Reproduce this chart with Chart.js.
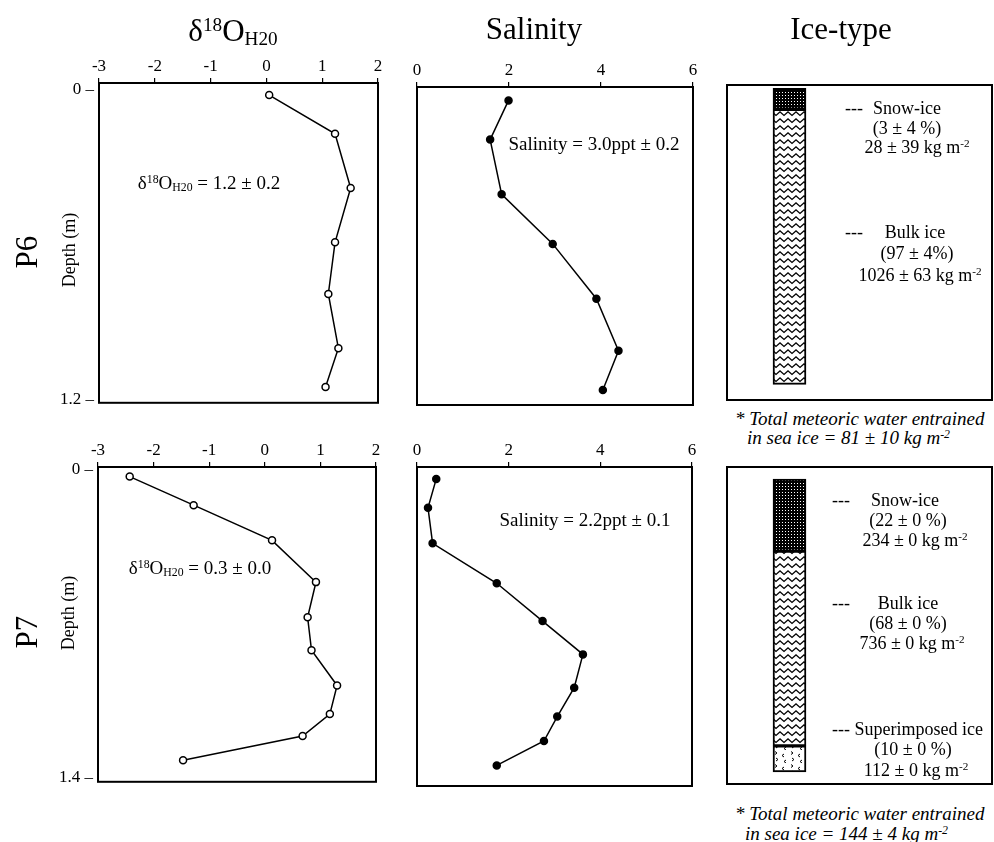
<!DOCTYPE html>
<html>
<head>
<meta charset="utf-8">
<script src="https://cdn.jsdelivr.net/npm/chart.js@4.4.1/dist/chart.umd.min.js"></script>
<style>
  html, body { margin:0; padding:0; background:#fff; overflow:hidden; }
  body { width:994px; height:842px; position:relative; font-family:"Liberation Serif", serif; color:#000; }
  canvas { position:absolute; }
  .t { position:absolute; white-space:nowrap; line-height:1; transform:translate(-50%,-50%); }
  .l { position:absolute; white-space:nowrap; line-height:1; transform:translate(0,-50%); }
  .r { position:absolute; white-space:nowrap; line-height:1; transform:translate(-50%,-50%) rotate(-90deg); }
  sup, sub { line-height:0; font-size:0.62em; }
  sup { vertical-align:0.5em; }
  sub { vertical-align:-0.25em; }
  .it { font-style:italic; }
</style>
</head>
<body>
<canvas id="isoP6"></canvas>
<canvas id="salP6"></canvas>
<canvas id="iceP6"></canvas>
<canvas id="isoP7"></canvas>
<canvas id="salP7"></canvas>
<canvas id="iceP7"></canvas>
<div id="labels"></div>
<script>
// ---------------- DATA ----------------
const isoTicks = [-3, -2, -1, 0, 1, 2];
const salTicks = [0, 2, 4, 6];
const p6DepthTicks = [0, 1.2];
const p6DepthLabels = ['0 \u2013', '1.2 \u2013'];
const p7DepthTicks = [0, 1.4];
const p7DepthLabels = ['0 \u2013', '1.4 \u2013'];

// P6 profiles (depth in m)
const p6IsoDepth = [0.02, 0.17, 0.38, 0.59, 0.79, 1.00, 1.15];
const p6Iso      = [0.05, 1.23, 1.51, 1.23, 1.11, 1.29, 1.06];
const p6SalDepth = [0.04, 0.19, 0.40, 0.59, 0.80, 1.00, 1.15];
const p6Sal      = [1.99, 1.59, 1.84, 2.95, 3.90, 4.38, 4.04];

// P7 profiles
const p7IsoDepth = [0.03, 0.16, 0.32, 0.51, 0.67, 0.82, 0.98, 1.11, 1.21, 1.32];
const p7Iso      = [-2.43, -1.28, 0.13, 0.92, 0.77, 0.84, 1.30, 1.17, 0.68, -1.47];
const p7SalDepth = [0.04, 0.17, 0.33, 0.51, 0.68, 0.83, 0.98, 1.11, 1.22, 1.33];
const p7Sal      = [0.42, 0.24, 0.34, 1.74, 2.74, 3.62, 3.43, 3.06, 2.77, 1.74];

// Ice-type columns (layer thickness as drawn, % of column)
const p6Layers = ['Snow-ice', 'Bulk ice'];
const p6LayerThickness = [7.1, 92.9];
const p7Layers = ['Snow-ice', 'Bulk ice', 'Superimposed ice'];
const p7LayerThickness = [24.6, 66.5, 8.9];

// ---------------- HELPERS ----------------
const FONT = 'Liberation Serif';

const boxPlugin = {
  id: 'box',
  afterDraw(chart) {
    const { ctx, chartArea: a } = chart;
    ctx.save();
    ctx.strokeStyle = '#000';
    ctx.lineWidth = 2;
    ctx.strokeRect(a.left, a.top, a.right - a.left, a.bottom - a.top);
    ctx.restore();
  }
};

function place(id, g) {
  const c = document.getElementById(id);
  const w = g.w + g.padL + g.padR, h = g.h + g.padT + g.padB;
  c.width = w; c.height = h;
  c.style.left = (g.left - g.padL) + 'px';
  c.style.top = (g.top - g.padT) + 'px';
  c.style.width = w + 'px'; c.style.height = h + 'px';
  return c;
}

function profileChart(id, g, xs, depths, xTicks, xMin, xMax, yTicks, yLabels, yMin, yMax, filled) {
  const c = place(id, g);
  return new Chart(c, {
    type: 'scatter',
    data: {
      datasets: [{
        data: xs.map((x, i) => ({ x: x, y: depths[i] })),
        showLine: true,
        borderColor: '#000',
        borderWidth: 1.5,
        pointRadius: 3.5,
        pointHoverRadius: 3.5,
        pointBorderWidth: 1.5,
        pointBackgroundColor: filled ? '#000' : '#fff',
        pointBorderColor: '#000'
      }]
    },
    options: {
      responsive: false,
      animation: false,
      devicePixelRatio: 1,
      events: [],
      layout: { padding: { left: 0, top: 0, right: g.padR, bottom: g.padB } },
      plugins: { legend: { display: false }, tooltip: { enabled: false } },
      scales: {
        x: {
          type: 'linear', position: 'top', min: xMin, max: xMax,
          afterBuildTicks: a => { a.ticks = xTicks.map(v => ({ value: v })); },
          afterFit: s => { s.height = g.padT; },
          grid: { display: true, drawOnChartArea: false, drawTicks: true, tickLength: 5, color: '#000', lineWidth: 1.2 },
          border: { display: false },
          ticks: { color: '#000', font: { family: FONT, size: 17 }, padding: 1, maxRotation: 0, autoSkip: false }
        },
        y: {
          type: 'linear', reverse: true, min: yMin, max: yMax,
          afterBuildTicks: a => { a.ticks = yTicks.map(v => ({ value: v })); },
          afterFit: s => { s.width = g.padL; },
          grid: { display: false, drawTicks: false, tickLength: 0 },
          border: { display: false },
          ticks: { display: !!yLabels, color: '#000', font: { family: FONT, size: 17 }, padding: 5, autoSkip: false,
                   callback: (v, i) => yLabels ? yLabels[i] : '' }
        }
      }
    },
    plugins: [boxPlugin]
  });
}

function makePattern(w, h, draw) {
  const c = document.createElement('canvas');
  c.width = w; c.height = h;
  const g = c.getContext('2d');
  draw(g);
  return g.createPattern(c, 'repeat');
}
const snowPat = makePattern(3, 3, g => {
  g.fillStyle = '#000'; g.fillRect(0, 0, 3, 3);
  g.fillStyle = '#fff'; g.fillRect(1, 1, 1, 1);
});
const bulkPat = makePattern(8, 7, g => {
  g.fillStyle = '#fff'; g.fillRect(0, 0, 8, 7);
  g.strokeStyle = '#000'; g.lineWidth = 1.3;
  g.beginPath(); g.moveTo(-1, 1); g.lineTo(4, 5.5); g.lineTo(9, 1); g.stroke();
});
const superPat = makePattern(16, 13, g => {
  g.fillStyle = '#fff'; g.fillRect(0, 0, 16, 13);
  g.strokeStyle = '#000'; g.lineWidth = 1;
  g.beginPath();
  g.moveTo(3, 1.5); g.lineTo(5, 3); g.lineTo(3, 4.5);
  g.moveTo(12, 4); g.lineTo(10, 5.5); g.lineTo(12, 7);
  g.moveTo(4, 8); g.lineTo(6, 9.5); g.lineTo(4, 11);
  g.moveTo(14, 10); g.lineTo(12, 11.5); g.lineTo(14, 13);
  g.stroke();
});

function iceChart(id, g, layers, thickness, patterns, yMin, yMax, xMin, xMax) {
  const c = place(id, g);
  return new Chart(c, {
    type: 'bar',
    data: {
      datasets: layers.map((name, i) => ({
        label: name,
        data: [{ x: 0, y: thickness[i] }],
        backgroundColor: patterns[i],
        borderColor: '#000',
        borderWidth: 2,
        borderSkipped: false,
        barThickness: 33
      }))
    },
    options: {
      responsive: false,
      animation: false,
      devicePixelRatio: 1,
      events: [],
      layout: { padding: { left: g.padL, top: g.padT, right: g.padR, bottom: g.padB } },
      plugins: { legend: { display: false }, tooltip: { enabled: false } },
      scales: {
        x: { type: 'linear', display: false, stacked: true, offset: false, min: xMin, max: xMax },
        y: { type: 'linear', display: false, stacked: true, reverse: true, min: yMin, max: yMax }
      }
    },
    plugins: [boxPlugin]
  });
}

// ---------------- CHARTS ----------------
profileChart('isoP6', { left: 99, top: 83, w: 279, h: 323, padL: 60, padT: 45, padR: 12, padB: 12 },
  p6Iso, p6IsoDepth, isoTicks, -3, 2, p6DepthTicks, p6DepthLabels, -0.0268, 1.2115, false);
profileChart('salP6', { left: 417, top: 87, w: 276, h: 318, padL: 10, padT: 45, padR: 12, padB: 12 },
  p6Sal, p6SalDepth, salTicks, 0, 6, p6DepthTicks, null, -0.0115, 1.2077, true);
profileChart('isoP7', { left: 98, top: 467, w: 278, h: 318, padL: 60, padT: 45, padR: 12, padB: 12 },
  p7Iso, p7IsoDepth, isoTicks, -3, 2, p7DepthTicks, p7DepthLabels, -0.0135, 1.418, false);
profileChart('salP7', { left: 417, top: 467, w: 275, h: 319, padL: 10, padT: 45, padR: 12, padB: 12 },
  p7Sal, p7SalDepth, salTicks, 0, 6, p7DepthTicks, null, -0.0135, 1.4225, true);

iceChart('iceP6', { left: 727, top: 85, w: 265, h: 315, padL: 3, padT: 3, padR: 2, padB: 3 },
  p6Layers, p6LayerThickness, [snowPat, bulkPat], -1.1, 105.3, -62.5, 202.5);
iceChart('iceP7', { left: 727, top: 467, w: 265, h: 317, padL: 3, padT: 3, padR: 2, padB: 3 },
  p7Layers, p7LayerThickness, [snowPat, bulkPat, superPat], -4.1, 104.1, -62.5, 202.5);

// ---------------- TEXT ----------------
const texts = [
  // column titles
  ['t', 233, 30, 31, '\u03b4<sup>18</sup>O<sub>H20</sub>'],
  ['t', 534, 28, 31, 'Salinity'],
  ['t', 841, 28, 31, 'Ice-type'],
  // row labels
  ['r', 26, 252, 31, 'P6'],
  ['r', 69, 250, 18, 'Depth (m)'],
  ['r', 26, 632, 31, 'P7'],
  ['r', 68, 613, 18, 'Depth (m)'],
  // annotations
  ['t', 209, 182, 19, '\u03b4<sup>18</sup>O<sub>H20</sub> = 1.2 \u00b1 0.2'],
  ['t', 594, 143, 19, 'Salinity = 3.0ppt \u00b1 0.2'],
  ['t', 200, 567, 19, '\u03b4<sup>18</sup>O<sub>H20</sub> = 0.3 \u00b1 0.0'],
  ['t', 585, 519, 19, 'Salinity = 2.2ppt \u00b1 0.1'],
  // P6 ice text
  ['l', 845, 108, 18, '---'],
  ['t', 907, 108, 18, 'Snow-ice'],
  ['t', 907, 128, 18, '(3 \u00b1 4 %)'],
  ['t', 917, 147, 18, '28 \u00b1 39 kg m<sup>-2</sup>'],
  ['l', 845, 232, 18, '---'],
  ['t', 915, 232, 18, 'Bulk ice'],
  ['t', 917, 253, 18, '(97 \u00b1 4%)'],
  ['t', 920, 275, 18, '1026 \u00b1 63 kg m<sup>-2</sup>'],
  ['l', 735, 418, 19, '<span class="it">* Total meteoric water entrained</span>'],
  ['l', 747, 437, 19, '<span class="it">in sea ice = 81 \u00b1 10 kg m<sup>-2</sup></span>'],
  // P7 ice text
  ['l', 832, 500, 18, '---'],
  ['t', 905, 500, 18, 'Snow-ice'],
  ['t', 908, 520, 18, '(22 \u00b1 0 %)'],
  ['t', 915, 540, 18, '234 \u00b1 0 kg m<sup>-2</sup>'],
  ['l', 832, 603, 18, '---'],
  ['t', 908, 603, 18, 'Bulk ice'],
  ['t', 908, 623, 18, '(68 \u00b1 0 %)'],
  ['t', 912, 643, 18, '736 \u00b1 0 kg m<sup>-2</sup>'],
  ['l', 832, 729, 18, '--- Superimposed ice'],
  ['t', 913, 749, 18, '(10 \u00b1 0 %)'],
  ['t', 916, 770, 18, '112 \u00b1 0 kg m<sup>-2</sup>'],
  ['l', 735, 813, 19, '<span class="it">* Total meteoric water entrained</span>'],
  ['l', 745, 833, 19, '<span class="it">in sea ice = 144 \u00b1 4 kg m<sup>-2</sup></span>']
];
const host = document.getElementById('labels');
texts.forEach(([cls, x, y, size, html]) => {
  const d = document.createElement('div');
  d.className = cls;
  d.style.left = x + 'px';
  d.style.top = y + 'px';
  d.style.fontSize = size + 'px';
  d.innerHTML = html;
  host.appendChild(d);
});
</script>
</body>
</html>
